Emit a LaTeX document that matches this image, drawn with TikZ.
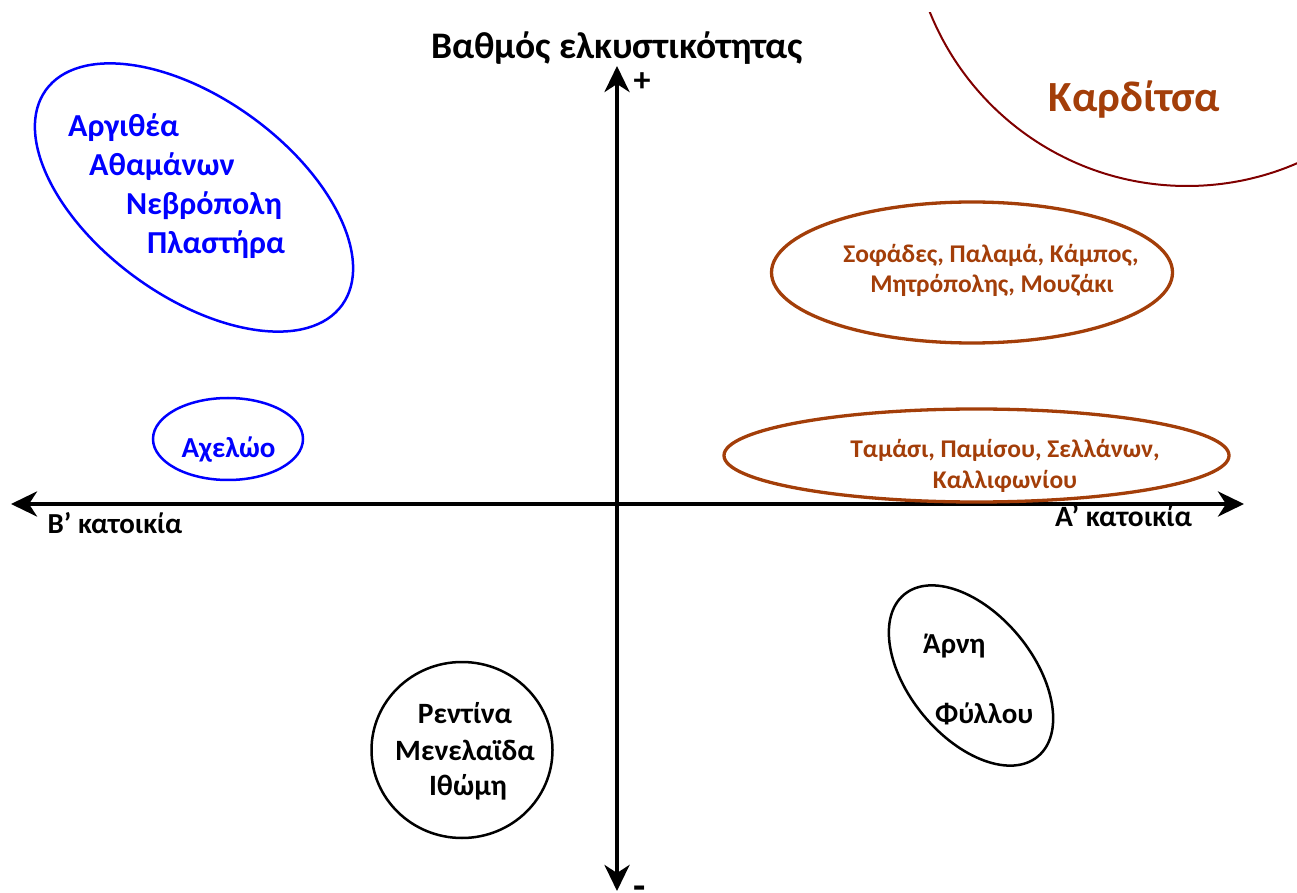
\documentclass[tikz,border=0pt]{standalone}
\usepackage{fontspec}
\setmainfont{Carlito}
\usetikzlibrary{arrows.meta,shapes.geometric}
\definecolor{kblue}{RGB}{0,0,255}
\definecolor{kbrown}{RGB}{163,62,9}
\definecolor{kred}{RGB}{128,0,0}
\tikzset{
  txt/.style={font=\bfseries\fontsize{#1}{#1}\selectfont,inner sep=0pt},   % label text
  axis/.style={line width=4pt,{Stealth[length=26pt,width=25pt,inset=8pt]}-{Stealth[length=26pt,width=25pt,inset=8pt]}},
  grp/.style={draw,ellipse,inner sep=0pt,line width=2.5pt},                  % group outline
  bgrp/.style={grp,draw=kbrown,line width=3.3pt},
  ring/.style={draw=kred,circle,inner sep=0pt,line width=2pt},
}

\begin{document}
\begin{tikzpicture}[x=1pt,y=1pt]
  \useasboundingbox (0,0) rectangle (1297,892);
  % axes
  \coordinate (yTop) at (617,826); \coordinate (yBot) at (617,1);
  \coordinate (xLeft) at (11,388); \coordinate (xRight) at (1244,388);
  \draw[axis] (yBot) -- (yTop);
  \draw[axis] (xLeft) -- (xRight);
  \node[txt=37.5,anchor=base] (title) at (617,833) {Βαθμός ελκυστικότητας};
  \node[txt=34] (plus) at (642,809.5) {+};
  \node[txt=40,anchor=base] (minus) at (640,-7) {-};
  \node[txt=29,anchor=base west] (bkat) at (47.5,359) {Β’ κατοικία};
  \node[txt=29.5,anchor=base west] (akat) at (1055,365) {Α’ κατοικία};
  % Karditsa
  \begin{scope}
    \clip (0,0) rectangle (1297,879);
    \node[ring,minimum size=554pt] (kring) at (1187,983) {};
  \end{scope}
  \node[txt=43,kbrown,anchor=base] (kard) at (1134.5,780) {Καρδίτσα};
  % blue groups
  \node[grp,kblue,minimum width=366pt,minimum height=198pt,rotate=-36] (bigblue) at (194,694.5) {};
  \node[txt=32,kblue,anchor=base west] (arg) at (68,755) {Αργιθέα};
  \node[txt=32,kblue,anchor=base west] (ath) at (89,716) {Αθαμάνων};
  \node[txt=32,kblue,anchor=base west] (nevr) at (126,677) {Νεβρόπολη};
  \node[txt=32,kblue,anchor=base west] (plast) at (147,638) {Πλαστήρα};
  \node[grp,kblue,minimum width=150pt,minimum height=82pt] (smallblue) at (228,453) {};
  \node[txt=29,kblue,anchor=base] (axel) at (228.5,434) {Αχελώο};
  % brown groups
  \node[bgrp,minimum width=401pt,minimum height=141pt] (brownA) at (972,619.5) {};
  \node[txt=25.5,kbrown,anchor=base] (sof) at (991,629) {Σοφάδες, Παλαμά, Κάμπος,};
  \node[txt=25.5,kbrown,anchor=base] (mitr) at (992,599) {Μητρόπολης, Μουζάκι};
  \node[bgrp,minimum width=505pt,minimum height=93pt] (brownB) at (976.5,436.5) {};
  \node[txt=25.5,kbrown,anchor=base] (tam) at (1005,434) {Ταμάσι, Παμίσου, Σελλάνων,};
  \node[txt=25.5,kbrown,anchor=base] (kall) at (1005,403) {Καλλιφωνίου};
  % black groups
  \node[grp,minimum width=181pt,minimum height=176pt] (blackA) at (462,142) {};
  \node[txt=29.5,anchor=base] (rent) at (465,169) {Ρεντίνα};
  \node[txt=29.5,anchor=base] (men) at (465,132) {Μενελαϊδα};
  \node[txt=29.5,anchor=base] (ith) at (468,97) {Ιθώμη};
  \node[grp,minimum width=210pt,minimum height=124pt,rotate=-50.5] (blackB) at (971,216.5) {};
  \node[txt=29,anchor=base west] (arni) at (923,239) {Άρνη};
  \node[txt=29,anchor=base west] (fyl) at (935,169) {Φύλλου};
\end{tikzpicture}
\end{document}
